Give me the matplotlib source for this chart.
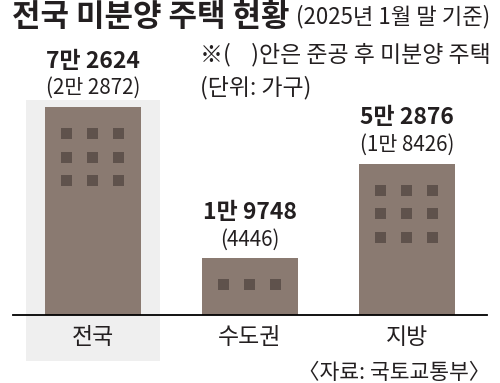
import matplotlib
matplotlib.use("Agg")
import matplotlib.pyplot as plt
from matplotlib.patches import Rectangle
from matplotlib.transforms import ScaledTranslation

plt.rcParams['font.family'] = ['Noto Sans CJK KR', 'DejaVu Sans']

# data (가구)
regions = ["전국", "수도권", "지방"]
unsold = [72624, 19748, 52876]
unsold_labels = ["7만 2624", "1만 9748", "5만 2876"]
completed_labels = ["(2만 2872)", "(4446)", "(1만 8426)"]
window_rows = [3, 1, 3]

BAR = "#8a7a71"
WIN = "#5f524c"
INK = "#231f20"
W, H = 500, 383

fig = plt.figure(figsize=(W / 100, H / 100), dpi=100)
fig.patch.set_facecolor("white")

def fx(px):
    return px / W

def fy(py):
    return 1 - py / H

ax = fig.add_axes([fx(13), fy(315), fx(487) - fx(13), fy(100) - fy(315)])
ax.patch.set_alpha(0)
ax.set_xlim(-0.51, 2.51)
ax.set_ylim(0, 72624 * 215 / 208)
for s in ["top", "right", "left"]:
    ax.spines[s].set_visible(False)
ax.spines["bottom"].set_linewidth(1.3)
ax.set_xticks([])
ax.set_yticks([])

# light highlight panel behind 전국
ax.add_patch(Rectangle((fx(26), fy(361)), fx(160) - fx(26), fy(100) - fy(361),
                       transform=fig.transFigure, facecolor="#efefef",
                       edgecolor="none", zorder=0, clip_on=False))

bw = 0.61
bars = ax.bar(range(len(regions)), unsold, width=bw, color=BAR, zorder=2)

# windows, placed in pixel offsets from each bar's top-left corner
for b, rows in zip(bars, window_rows):
    x0, top = b.get_x(), b.get_height()
    for r in range(rows):
        for c in range(3):
            off = ScaledTranslation((16 + 26 * c) / 100, -(21 + 23.5 * r + 11) / 100,
                                    fig.dpi_scale_trans)
            rect = Rectangle((0, 0), 0.11, 0.11, facecolor=WIN, edgecolor="none", zorder=3,
                             transform=fig.dpi_scale_trans + ScaledTranslation(x0, top, ax.transData) + off)
            ax.add_patch(rect)

for i, b in enumerate(bars):
    cx, top = b.get_x() + b.get_width() / 2, b.get_height()
    ax.annotate(unsold_labels[i], (cx, top), xytext=(0, 46 * 0.72), textcoords="offset points",
                ha="center", va="center", fontsize=16.5, fontweight="bold", color=INK)
    ax.annotate(completed_labels[i], (cx, top), xytext=(0, 19 * 0.72), textcoords="offset points",
                ha="center", va="center", fontsize=14.8, color=INK)
    ax.annotate(regions[i], (cx, 0), xytext=(0, -23 * 0.72), textcoords="offset points",
                ha="center", va="center", fontsize=16.5, color=INK, annotation_clip=False)

fig.text(fx(12), fy(17), "전국 미분양 주택 현황", ha="left", va="center",
         fontsize=22.3, fontweight="bold", color=INK)
fig.text(fx(490), fy(17), "(2025년 1월 말 기준)", ha="right", va="center",
         fontsize=16, color=INK)
fig.text(fx(200), fy(55), "※(    )안은 준공 후 미분양 주택", ha="left", va="center",
         fontsize=16.5, color=INK)
fig.text(fx(200), fy(88), "(단위: 가구)", ha="left", va="center",
         fontsize=16.5, color=INK)
fig.text(fx(490), fy(373), "〈자료: 국토교통부〉", ha="right", va="center",
         fontsize=15.5, color=INK)

fig.savefig("out.png", dpi=100, facecolor="white")
